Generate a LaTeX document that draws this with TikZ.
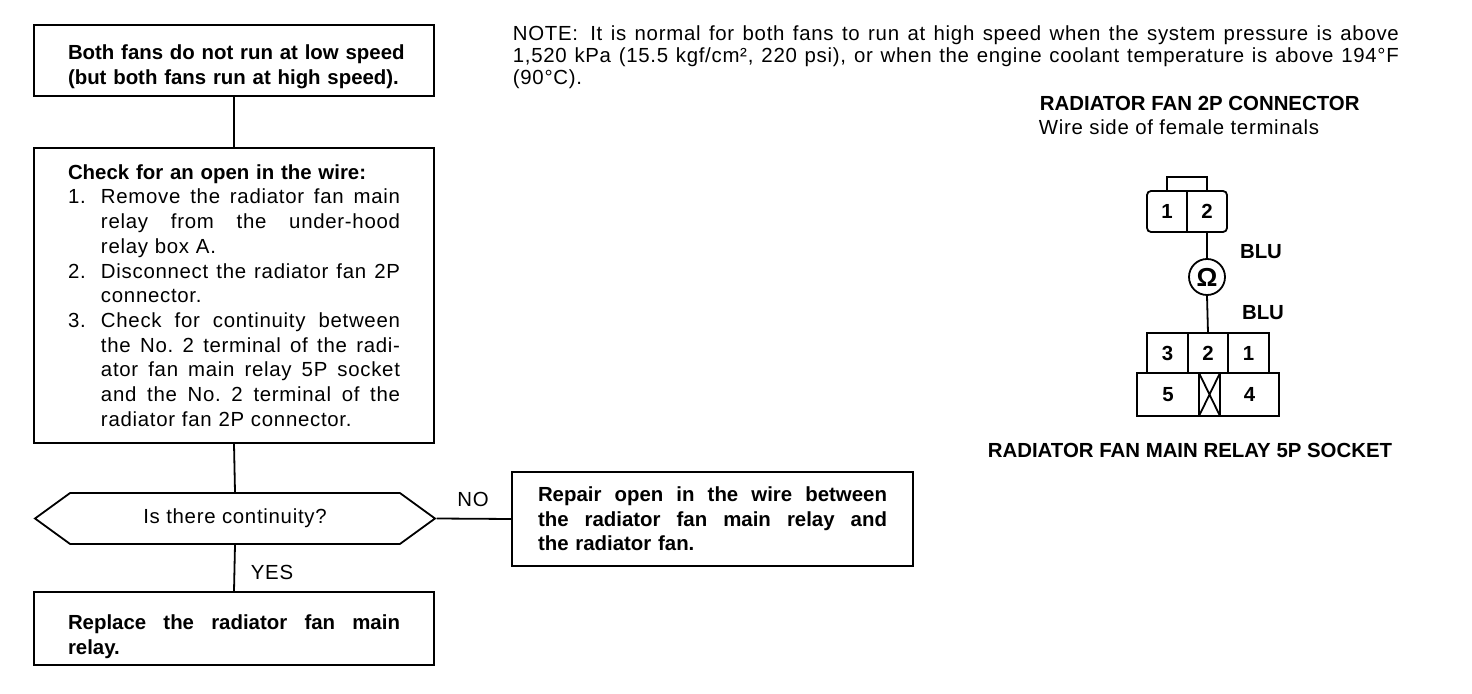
\documentclass[tikz,border=0pt]{standalone}
\usepackage{fontspec}
\setmainfont{Liberation Sans}[UprightFeatures={LetterSpace=3.5}]
\usetikzlibrary{shapes}
\newcommand{\jl}[2]{{\spaceskip=.278em plus 1fil\xspaceskip=.278em plus 1fil%
  \makebox[#1][s]{#2}}}
\newcommand{\stepno}[1]{\makebox[16.5pt][l]{#1}}
\newcommand{\stepin}{\hspace*{16.5pt}}

\begin{document}
\begin{tikzpicture}[x=0.5pt,y=-0.5pt,line width=0.9pt,
    txtreg/.style={font=\fontsize{10.2}{12.2}\selectfont},
    txtbold/.style={font=\bfseries\fontsize{10.2}{12.2}\selectfont},
    flowbox/.style={draw,rectangle,inner xsep=17pt,text width=166pt,align=left},
    pincell/.style={rectangle,inner sep=0pt,outer sep=0pt,minimum width=20pt,
      minimum height=20.5pt,txtbold},
    cell/.style={draw,rectangle,inner sep=0pt,outer sep=0pt,txtbold}]
  \useasboundingbox (0,0) rectangle (1472,694);
  % flow chart
  \node[flowbox,txtbold,minimum height=35.5pt] (start) at (234,60.5)
    {\rule{0pt}{13.5pt}\mbox{Both fans do not run at low speed}\\
     \mbox{(but both fans run at high speed).}};
  \node[flowbox,minimum height=147.5pt,
    font=\fontsize{10.2}{12.35}\selectfont] (check) at (234,295.5)
    {\textbf{Check for an open in the wire:}\\
     \stepno{1.}\jl{149.5pt}{Remove the radiator fan main}\\
     \stepin\jl{149.5pt}{relay from the under-hood}\\
     \stepin relay box A.\\
     \stepno{2.}\jl{149.5pt}{Disconnect the radiator fan 2P}\\
     \stepin connector.\\
     \stepno{3.}\jl{149.5pt}{Check for continuity between}\\
     \stepin\jl{149.5pt}{the No.\ 2 terminal of the radi-}\\
     \stepin\jl{149.5pt}{ator fan main relay 5P socket}\\
     \stepin\jl{149.5pt}{and the No.\ 2 terminal of the}\\
     \stepin radiator fan 2P connector.};
  \node[signal,signal to=east and west,signal pointer angle=72,draw,
    minimum width=200pt,minimum height=25.5pt,inner sep=0pt,txtreg]
    (cont) at (235,518.5) {Is there continuity?};
  \node[flowbox,txtbold,inner xsep=13pt,text width=174.5pt,
    minimum height=47pt] (repair) at (712.5,519)
    {\jl{174.5pt}{Repair open in the wire between}\\
     \jl{174.5pt}{the radiator fan main relay and}\\
     the radiator fan.};
  \node[flowbox,txtbold,minimum height=36.5pt] (replace) at (234,628.5)
    {\rule{0pt}{15.5pt}\jl{166pt}{Replace the radiator fan main}\\relay.};
  \node[txtreg] (no) at (473,499) {NO};
  \node[txtreg] (yes) at (272,572) {YES};
  \draw (start.south) -- (check.north);
  \draw (check.south) -- (cont.north);
  \draw (cont.east) -- (repair.west);
  \draw (cont.south) -- (replace.north);
  % note
  \node[anchor=west,align=justify,inner sep=0pt,text width=443pt,
    font=\fontsize{10.2}{11}\selectfont] (note) at (512,57)
    {NOTE:\hspace{0.6em}It is normal for both fans to run at high speed when the system pressure is above\linebreak
     1,520 kPa (15.5 kgf/cm², 220 psi), or when the engine coolant temperature is above 194°F\linebreak
     (90°C).};
  % connector view
  \node[txtbold,anchor=west,inner sep=0pt] (fantitle) at (1039,103)
    {RADIATOR FAN 2P CONNECTOR};
  \node[txtreg,anchor=west,inner sep=0pt] (fanside) at (1038,127)
    {Wire side of female terminals};
  \node[pincell] (p1) at (1167,211.5) {1};
  \node[pincell] (p2) at (1207,211.5) {2};
  \draw[rounded corners=2pt] (p1.north west) rectangle (p2.south east);
  \draw (p1.north east) -- (p1.south east);
  \draw (p1.north) -- ++(0,-14) -| (p2.north);
  \node[draw,circle,minimum size=18pt,inner sep=0pt,
    font=\bfseries\fontsize{13}{13}\selectfont] (ohm) at (1207,277) {Ω};
  \node[txtbold] (blu1) at (1261,252) {BLU};
  \node[txtbold] (blu2) at (1263,313) {BLU};
  \node[cell,minimum width=20.25pt,minimum height=20pt] (s3) at (1167.5,353) {3};
  \node[cell,minimum width=20.25pt,minimum height=20pt] (s2) at (1208,353) {2};
  \node[cell,minimum width=20.25pt,minimum height=20pt] (s1) at (1248.5,353) {1};
  \node[cell,minimum width=31pt,minimum height=21.5pt] (s5) at (1168,394.5) {5};
  \node[cell,minimum width=10.5pt,minimum height=21.5pt] (sx) at (1209.5,394.5) {};
  \node[cell,minimum width=29.5pt,minimum height=21.5pt] (s4) at (1249.5,394.5) {4};
  \draw (sx.north west) -- (sx.south east) (sx.north east) -- (sx.south west);
  \draw (p2.south) -- (ohm.north);
  \draw (ohm.south) -- (s2.north);
  \node[txtbold] (relaytitle) at (1190,450) {RADIATOR FAN MAIN RELAY 5P SOCKET};
\end{tikzpicture}
\end{document}
